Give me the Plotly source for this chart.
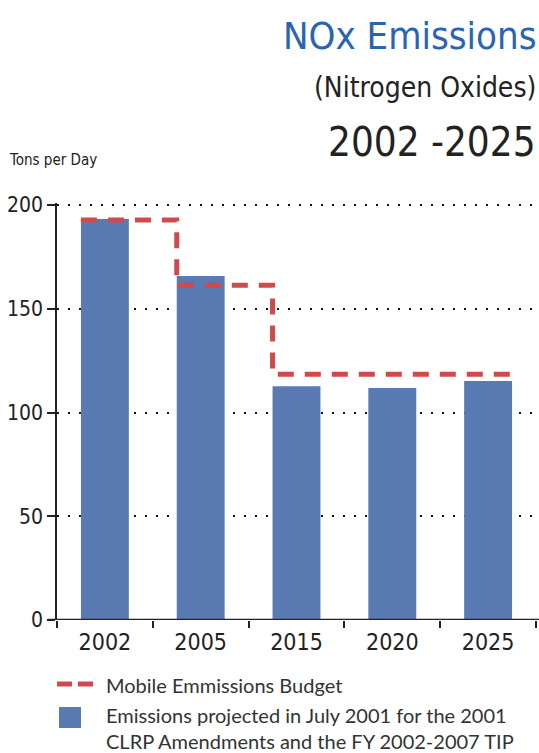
import plotly.graph_objects as go

# ---- data ----
years = ["2002", "2005", "2015", "2020", "2025"]
emissions = [193.3, 165.8, 112.7, 111.8, 115.2]
budget = [192.8, 161.4, 118.5, 118.5, 118.5]
y_ticks = [0, 50, 100, 150, 200]

title1 = "NOx Emissions"
title2 = "(Nitrogen Oxides)"
title3 = "2002 -2025"
y_title = "Tons per Day"
legend_budget = "Mobile Emmissions Budget"
legend_emis = "Emissions projected in July 2001 for the 2001<br>CLRP Amendments and the FY 2002-2007 TIP"

# ---- style ----
W, H = 539, 753
PL, PR, PT, PB = 57, 536, 203, 620
Y_MAX = 201
BAR_W = 0.5
BAR_COLOR = "#5a7ab3"
RED = "#d04a4c"
BLUE_T = "#2a65ad"
INK = "#222222"
COND = "DejaVu Sans Condensed, Liberation Sans Narrow, sans-serif"
BODY = "Lato, Open Sans, sans-serif"


def px_x(px):
    return (px - PL) / (PR - PL)


def px_y(py):
    return (PB - py) / (PB - PT)


idx = list(range(len(years)))

fig = go.Figure()
fig.add_trace(go.Bar(x=idx, y=emissions, width=BAR_W, marker=dict(color=BAR_COLOR, line=dict(width=0)),
                     showlegend=False, hoverinfo="skip"))

# step line for the budget: starts at the left edge of each bar, ends at right edge of the last
bx = [i - BAR_W / 2 for i in idx] + [idx[-1] + BAR_W / 2]
by = budget + [budget[-1]]
fig.add_trace(go.Scatter(x=bx, y=by, mode="lines", line=dict(color=RED, width=5, dash="16px,11px", shape="hv"),
                         showlegend=False, hoverinfo="skip"))

shapes = [
    # x axis baseline extending beyond plot area
    dict(type="line", xref="paper", yref="y", x0=px_x(48), x1=px_x(539), y0=0, y1=0,
         line=dict(color=INK, width=2.5)),
    # legend: dashed line sample
    dict(type="line", xref="paper", yref="paper", x0=px_x(57), x1=px_x(95), y0=px_y(684), y1=px_y(684),
         line=dict(color=RED, width=5, dash="15px,6px")),
    # legend: blue square
    dict(type="rect", xref="paper", yref="paper", x0=px_x(59), x1=px_x(81), y0=px_y(728), y1=px_y(707),
         fillcolor=BAR_COLOR, line=dict(width=0)),
]

annotations = [
    dict(text=title1, xref="paper", yref="paper", x=px_x(538), y=px_y(35.5), xanchor="right", yanchor="middle",
         showarrow=False, font=dict(family=COND, size=38, color=BLUE_T)),
    dict(text=title2, xref="paper", yref="paper", x=px_x(538), y=px_y(88), xanchor="right", yanchor="middle",
         showarrow=False, font=dict(family=COND, size=28, color=INK)),
    dict(text=title3, xref="paper", yref="paper", x=px_x(538), y=px_y(141.5), xanchor="right", yanchor="middle",
         showarrow=False, font=dict(family=COND, size=40, color=INK)),
    dict(text=y_title, xref="paper", yref="paper", x=px_x(7), y=px_y(160), xanchor="left", yanchor="middle",
         showarrow=False, font=dict(family=COND, size=15, color=INK)),
    dict(text=legend_budget, xref="paper", yref="paper", x=px_x(104), y=px_y(685), xanchor="left",
         yanchor="middle", showarrow=False, font=dict(family=BODY, size=20, color="#333333")),
    dict(text=legend_emis, xref="paper", yref="paper", x=px_x(104), y=px_y(728), xanchor="left",
         yanchor="middle", align="left", showarrow=False, font=dict(family=BODY, size=20, color="#333333")),
]

fig.update_layout(
    template="none",
    width=W, height=H,
    margin=dict(l=PL, r=W - PR, t=PT, b=H - PB, pad=0, autoexpand=False),
    paper_bgcolor="white", plot_bgcolor="white",
    shapes=shapes, annotations=annotations,
    showlegend=False,
    xaxis=dict(range=[-0.5, len(years) - 0.5], tickmode="array", tickvals=idx, ticktext=years,
               ticks="", showline=False, showgrid=False, zeroline=False, automargin=False,
               ticklabelstandoff=6,
               tickfont=dict(family=COND, size=23, color=INK)),
    yaxis=dict(range=[0, Y_MAX], tickmode="array", tickvals=y_ticks, ticks="outside", ticklen=8, tickwidth=1.5,
               tickcolor=INK, showline=True, linecolor=INK, linewidth=1.5, zeroline=False, automargin=False,
               showgrid=True, gridcolor="#111111", gridwidth=1.6, griddash="1.5px,9.5px",
               ticklabelstandoff=0,
               tickfont=dict(family=COND, size=21, color=INK)),
)
fig.update_xaxes(minor=dict(tickmode="linear", tick0=-0.5, dtick=1, ticks="outside", ticklen=7,
                            tickwidth=1.5, tickcolor=INK, showgrid=False))

fig.write_html("out.html")
